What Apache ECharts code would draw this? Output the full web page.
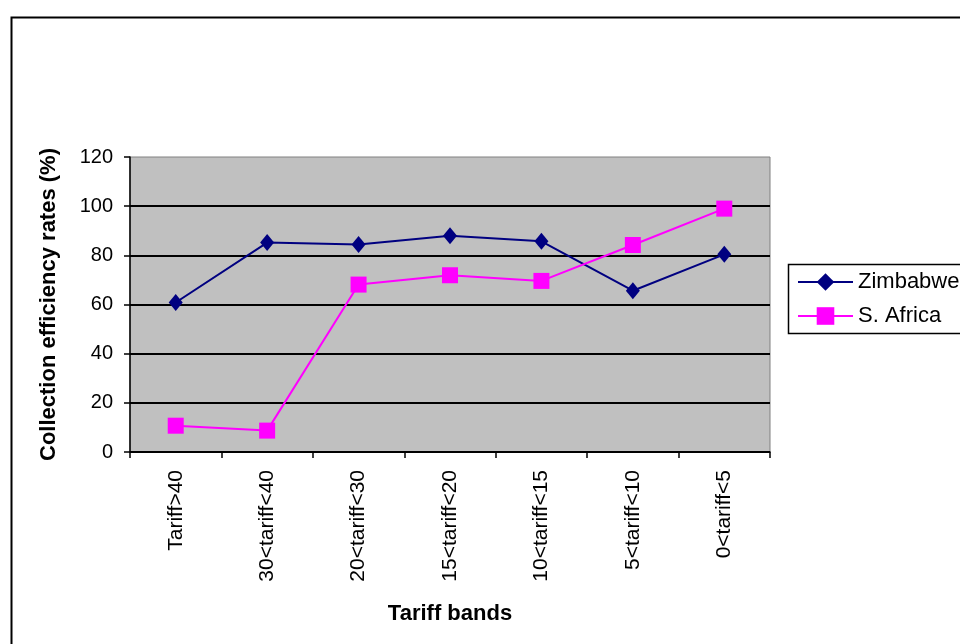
<!DOCTYPE html>
<html>
<head>
<meta charset="utf-8">
<script src="https://cdn.jsdelivr.net/npm/echarts@6/dist/echarts.min.js"></script>
<style>html,body{margin:0;padding:0;background:#fff}#c{width:960px;height:644px}</style>
</head>
<body>
<div id="c"></div>
<script>
const categories = ['Tariff>40', '30<tariff<40', '20<tariff<30', '15<tariff<20', '10<tariff<15', '5<tariff<10', '0<tariff<5'];
const zimbabwe = [60.8, 85.2, 84.4, 88.0, 85.7, 65.6, 80.4];
const southAfrica = [10.7, 8.7, 68.1, 71.9, 69.6, 84.2, 99.0];

const chart = echarts.init(document.getElementById('c'), null, {renderer: 'canvas'});
const font = 'Liberation Sans, Arial, sans-serif';
chart.setOption({
  animation: false,
  backgroundColor: '#ffffff',
  textStyle: {fontFamily: font},
  graphic: [
    {
      type: 'rect', z: -10,
      shape: {x: 11.5, y: 17.5, width: 1000, height: 700},
      style: {fill: 'none', stroke: '#000', lineWidth: 2}
    },
    {
      type: 'rect', z: 1,
      shape: {x: 788.5, y: 264.5, width: 300, height: 69},
      style: {fill: '#fff', stroke: '#000', lineWidth: 1.5}
    }
  ],
  grid: {left: 130, top: 157, width: 640, height: 295, show: true, backgroundColor: '#c0c0c0', borderColor: '#808080', borderWidth: 1},
  legend: {
    orient: 'vertical', left: 797, top: 271, z: 5,
    padding: 0, itemGap: 12,
    itemWidth: 55, itemHeight: 22,
    textStyle: {fontFamily: font, fontSize: 22, color: '#000'},
    data: ['Zimbabwe', 'S. Africa']
  },
  xAxis: {
    type: 'category', data: categories, boundaryGap: true,
    name: 'Tariff bands', nameLocation: 'middle', nameGap: 151,
    nameTextStyle: {fontFamily: font, fontSize: 22, fontWeight: 'bold', color: '#000'},
    axisLine: {lineStyle: {color: '#000', width: 1.5}},
    axisTick: {show: true, length: 6, lineStyle: {color: '#000', width: 1.5}},
    axisLabel: {rotate: 90, fontFamily: font, fontSize: 21, color: '#000', margin: 18, interval: 0},
    splitLine: {show: false}
  },
  yAxis: {
    type: 'value', min: 0, max: 120, interval: 20,
    name: 'Collection efficiency rates (%)', nameLocation: 'middle', nameGap: 70,
    nameTextStyle: {fontFamily: font, fontSize: 22, fontWeight: 'bold', color: '#000'},
    axisLine: {show: true, lineStyle: {color: '#000', width: 1.5}},
    axisTick: {show: true, length: 6, lineStyle: {color: '#000', width: 1.5}},
    axisLabel: {fontFamily: font, fontSize: 20, color: '#000', margin: 17},
    splitLine: {show: true, showMaxLine: false, lineStyle: {color: '#000', width: 2}}
  },
  series: [
    {
      name: 'Zimbabwe', type: 'line', data: zimbabwe,
      symbol: 'diamond', symbolSize: [14, 17],
      lineStyle: {color: '#000080', width: 2},
      itemStyle: {color: '#000080'}
    },
    {
      name: 'S. Africa', type: 'line', data: southAfrica,
      symbol: 'rect', symbolSize: 16,
      lineStyle: {color: '#ff00ff', width: 2},
      itemStyle: {color: '#ff00ff'}
    }
  ]
});
</script>
</body>
</html>
